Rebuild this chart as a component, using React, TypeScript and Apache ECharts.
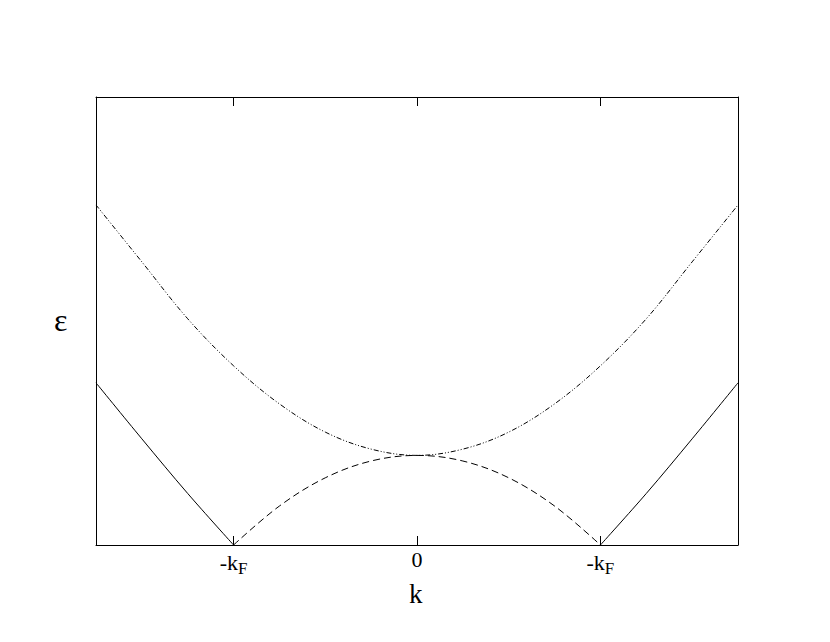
import React, { useEffect, useRef } from "react";
import * as echarts from "echarts";

const kUpper = [-1.75, -1.5, -1.25, -1, -0.75, -0.5, -0.25, 0, 0.25, 0.5, 0.75, 1, 1.25, 1.5, 1.75];
const upperBranch = [0.759, 0.632, 0.505, 0.4, 0.315, 0.252, 0.214, 0.2, 0.214, 0.252, 0.315, 0.4, 0.505, 0.632, 0.759];

const kInner = [-1, -0.75, -0.5, -0.25, 0, 0.25, 0.5, 0.75, 1];
const innerBranch = [0, 0.087, 0.15, 0.1875, 0.2, 0.1875, 0.15, 0.087, 0];

const kOuterLeft = [-1.75, -1.5, -1.25, -1];
const outerLeft = [0.362, 0.237, 0.115, 0];
const kOuterRight = [1, 1.25, 1.5, 1.75];
const outerRight = [0, 0.115, 0.237, 0.362];

const tickValues = [-1, 0, 1];
const tickLabels = ["-k{sub|F}", "0", "-k{sub|F}"];

const pairs = (xs: number[], ys: number[]) => xs.map((x, i) => [x, ys[i]]);

const FONT = "Liberation Serif";

export default function App() {
  const ref = useRef<HTMLDivElement>(null);
  useEffect(() => {
    document.body.style.margin = "0";
    const chart = echarts.init(ref.current!, null, { renderer: "svg" });
    const black = "#000";
    chart.setOption({
      animation: false,
      backgroundColor: "#fff",
      grid: { left: 96, right: 92, top: 97, bottom: 97, show: false },
      xAxis: [
        {
          type: "value",
          min: -1.75,
          max: 1.75,
          position: "bottom",
          axisLine: { show: true, onZero: false, lineStyle: { color: black, width: 1 } },
          axisTick: { show: true, inside: true, length: 9, customValues: tickValues, lineStyle: { color: black } },
          axisLabel: {
            show: true,
            customValues: tickValues,
            margin: 3,
            fontFamily: FONT,
            fontSize: 22,
            color: black,
            formatter: (v: number) => tickLabels[tickValues.indexOf(v)] ?? "",
            rich: {
              sub: { fontFamily: FONT, fontSize: 17, color: black, verticalAlign: "bottom", padding: [12, 0, 0, 0] },
            },
          },
          splitLine: { show: false },
        },
        {
          type: "value",
          min: -1.75,
          max: 1.75,
          position: "top",
          axisLine: { show: true, onZero: false, lineStyle: { color: black, width: 1 } },
          axisTick: { show: true, inside: true, length: 9, customValues: tickValues, lineStyle: { color: black } },
          axisLabel: { show: false },
          splitLine: { show: false },
        },
      ],
      yAxis: [
        {
          type: "value",
          min: 0,
          max: 1,
          position: "left",
          axisLine: { show: true, onZero: false, lineStyle: { color: black, width: 1 } },
          axisTick: { show: false },
          axisLabel: { show: false },
          splitLine: { show: false },
        },
        {
          type: "value",
          min: 0,
          max: 1,
          position: "right",
          axisLine: { show: true, onZero: false, lineStyle: { color: black, width: 1 } },
          axisTick: { show: false },
          axisLabel: { show: false },
          splitLine: { show: false },
        },
      ],
      graphic: [
        { type: "text", left: 409, top: 580, style: { text: "k", fontFamily: FONT, fontSize: 27, fill: black } },
        { type: "text", left: 54, top: 304, style: { text: "ε", fontFamily: FONT, fontSize: 32, fill: black } },
      ],
      series: [
        {
          type: "line",
          data: pairs(kUpper, upperBranch),
          smooth: 0.35,
          showSymbol: false,
          lineStyle: { color: black, width: 1, type: [5, 2, 1, 2, 1, 2] },
        },
        {
          type: "line",
          data: pairs(kInner, innerBranch),
          smooth: 0.35,
          showSymbol: false,
          lineStyle: { color: black, width: 1, type: [7, 4] },
        },
        {
          type: "line",
          data: pairs(kOuterLeft, outerLeft),
          smooth: 0.35,
          showSymbol: false,
          lineStyle: { color: black, width: 1, type: "solid" },
        },
        {
          type: "line",
          data: pairs(kOuterRight, outerRight),
          smooth: 0.35,
          showSymbol: false,
          lineStyle: { color: black, width: 1, type: "solid" },
        },
      ],
    });
    return () => chart.dispose();
  }, []);
  return <div ref={ref} style={{ position: "absolute", left: 0, top: 0, width: 830, height: 642 }} />;
}
